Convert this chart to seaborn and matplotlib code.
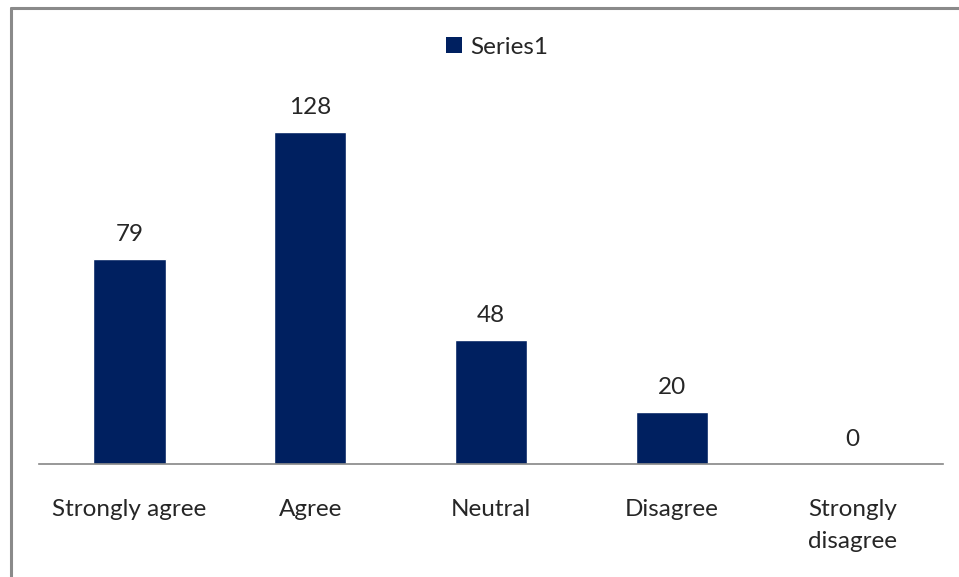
import numpy as np
import pandas as pd
import matplotlib.pyplot as plt
import seaborn as sns
from matplotlib.lines import Line2D
from matplotlib.patches import Patch

# chart data
categories = ["Strongly agree", "Agree", "Neutral", "Disagree", "Strongly\ndisagree"]
values = [79, 128, 48, 20, 0]
series_name = "Series1"

BAR_COLOR = "#002060"
AXIS_COLOR = "#868686"
TEXT_COLOR = "#262626"

sns.set_theme(style="white")
plt.rcParams["font.family"] = ["Lato", "DejaVu Sans"]

df = pd.DataFrame({"category": categories, "value": values})

fig = plt.figure(figsize=(9.59, 5.77), dpi=100)
ax = fig.add_axes([39 / 959, 113 / 577, 904 / 959, 363 / 577])

sns.barplot(data=df, x="category", y="value", color=BAR_COLOR,
            saturation=1, width=0.4, ax=ax)

ax.set_ylim(0, 140)
ax.set_xlim(-0.5, len(categories) - 0.5)
ax.set_xlabel("")
ax.set_ylabel("")
ax.set_yticks([])
ax.tick_params(axis="x", length=0, pad=25, labelsize=17.5, colors=TEXT_COLOR)
for lbl in ax.get_xticklabels():
    lbl.set_linespacing(1.65)

for side in ["top", "right", "left"]:
    ax.spines[side].set_visible(False)
ax.spines["bottom"].set_color(AXIS_COLOR)
ax.spines["bottom"].set_linewidth(1.2)

# value labels above bars
for i, v in enumerate(values):
    ax.annotate(str(v), (i, v), xytext=(0, 10), textcoords="offset points",
                ha="center", va="bottom", fontsize=17.5, color=TEXT_COLOR)

# legend at top
handle = Patch(facecolor=BAR_COLOR, edgecolor="none", label=series_name)
fig.legend(handles=[handle], loc="center", bbox_to_anchor=(497 / 959, 1 - 47 / 577),
           frameon=False, fontsize=17.5, handlelength=0.65, handleheight=0.65,
           handletextpad=0.35, labelcolor=TEXT_COLOR)

# chart border (top and left edges visible)
fig.add_artist(Line2D([11 / 959, 1], [1 - 8 / 577, 1 - 8 / 577],
                      transform=fig.transFigure, color="#8a8a8a", lw=2.2))
fig.add_artist(Line2D([11 / 959, 11 / 959], [0, 1 - 8 / 577],
                      transform=fig.transFigure, color="#8a8a8a", lw=2.2))

fig.savefig("out.png", dpi=100, facecolor="white")
